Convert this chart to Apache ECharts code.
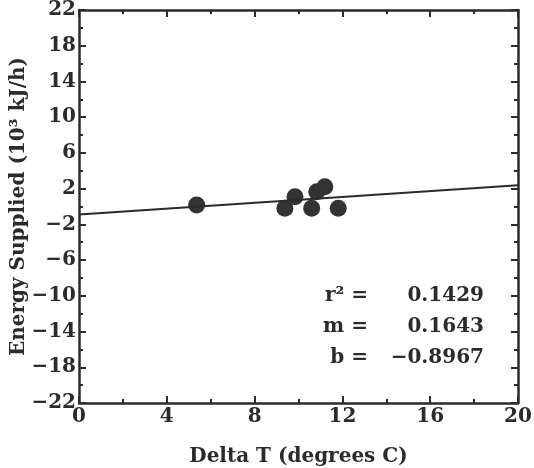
<!DOCTYPE html>
<html><head><meta charset="utf-8">
<script src="https://cdn.jsdelivr.net/npm/echarts@6/dist/echarts.min.js"></script>
<style>html,body{margin:0;padding:0;background:#fff}#c{width:534px;height:468px}</style>
</head><body><div id="c"></div>
<script>
const pointsX = [5.36, 9.38, 9.84, 10.6, 10.83, 11.2, 11.81];
const pointsY = [0.16, -0.2, 1.1, -0.2, 1.65, 2.2, -0.2];
const fitX = [0, 20];
const fitY = [-0.8967, 2.3893];
const statLabels = ['r² =', 'm =', 'b ='];
const statValues = ['0.1429', '0.1643', '−0.8967'];
const xTicks = [0, 4, 8, 12, 16, 20];
const yTicks = [-22, -18, -14, -10, -6, -2, 2, 6, 10, 14, 18, 22];

const ink = '#2b2b2b';
const font = 'DejaVu Serif';
const chart = echarts.init(document.getElementById('c'));
const axCommon = () => ({
  axisLine: {onZero: false, lineStyle: {color: ink, width: 2.5}},
  axisTick: {inside: true, length: 7, lineStyle: {color: ink, width: 2}},
  minorTick: {show: true, splitNumber: 2, length: 4, lineStyle: {color: ink, width: 2}},
  splitLine: {show: false}
});
const fmt = v => String(v).replace('-', '−');
chart.setOption({
  backgroundColor: '#fff',
  animation: false,
  grid: {left: 79, right: 16, top: 10, bottom: 65, containLabel: false, outerBoundsMode: 'none'},
  xAxis: [
    Object.assign({type: 'value', min: xTicks[0], max: xTicks[xTicks.length-1], interval: 4,
      name: 'Delta T (degrees C)', nameLocation: 'middle', nameGap: 44, nameMoveOverlap: false,
      nameTextStyle: {fontFamily: font, fontWeight: 'bold', fontSize: 20, color: ink},
      axisLabel: {fontFamily: font, fontWeight: 'bold', fontSize: 20, color: ink, margin: 4, formatter: fmt}}, axCommon()),
    Object.assign({type: 'value', position: 'top', min: 0, max: 20, interval: 4,
      axisLabel: {show: false}}, axCommon())
  ],
  yAxis: [
    Object.assign({type: 'value', min: yTicks[0], max: yTicks[yTicks.length-1], interval: 4,
      name: 'Energy Supplied (10³ kJ/h)', nameLocation: 'middle', nameGap: 50, nameMoveOverlap: false,
      nameTextStyle: {fontFamily: font, fontWeight: 'bold', fontSize: 20, color: ink},
      axisLabel: {fontFamily: font, fontWeight: 'bold', fontSize: 20, color: ink, margin: 3, formatter: fmt}}, axCommon()),
    Object.assign({type: 'value', position: 'right', min: -22, max: 22, interval: 4,
      axisLabel: {show: false}}, axCommon())
  ],
  series: [
    {type: 'line', data: fitX.map((x, i) => [x, fitY[i]]), symbol: 'none',
      lineStyle: {color: ink, width: 2}},
    {type: 'scatter', data: pointsX.map((x, i) => [x, pointsY[i]]), symbolSize: 17,
      itemStyle: {color: '#333', opacity: 1}}
  ],
  graphic: statLabels.map((t, i) => ({
    type: 'group', children: [
      {type: 'text', x: 368, y: 296 + i * 31, style: {text: t, align: 'right', verticalAlign: 'middle',
        font: 'bold 20px "DejaVu Serif"', fill: ink}},
      {type: 'text', x: 484, y: 296 + i * 31, style: {text: statValues[i], align: 'right', verticalAlign: 'middle',
        font: 'bold 20px "DejaVu Serif"', fill: ink}}
    ]}))
});
</script></body></html>
